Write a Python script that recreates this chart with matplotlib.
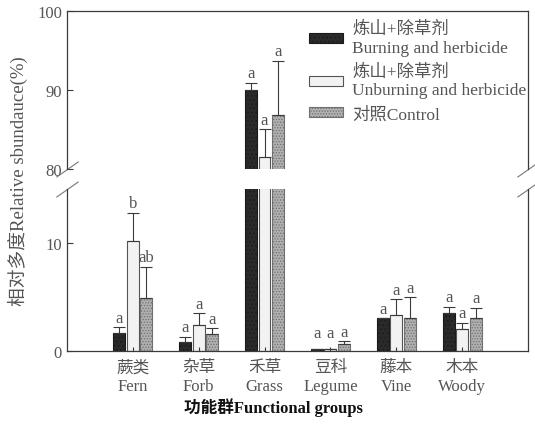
import matplotlib.pyplot as plt
import numpy as np
from matplotlib.patches import Patch

plt.rcParams['font.family'] = ['Liberation Serif', 'Noto Sans CJK SC']
plt.rcParams['hatch.linewidth'] = 0.6

# data
cats_cn = ['蕨类', '杂草', '禾草', '豆科', '藤本', '木本']
cats_en = ['Fern', 'Forb', 'Grass', 'Legume', 'Vine', 'Woody']

burn = [1.7, 0.85, 90.0, 0.15, 3.0, 3.5]
burn_err = [0.5, 0.45, 0.9, 0.0, 0.0, 0.6]
burn_sig = ['a', 'a', 'a', 'a', 'a', 'a']

unburn = [10.2, 2.4, 81.5, 0.2, 3.3, 2.0]
unburn_err = [2.6, 1.1, 3.5, 0.0, 1.5, 0.6]
unburn_sig = ['b', 'a', 'a', 'a', 'a', 'a']

ctrl = [4.9, 1.6, 86.8, 0.6, 3.0, 3.0]
ctrl_err = [2.9, 0.5, 6.9, 0.3, 2.0, 1.0]
ctrl_sig = ['ab', 'a', 'a', 'a', 'a', 'a']

labels = ['炼山+除草剂\nBurning and herbicide',
          '炼山+除草剂\nUnburning and herbicide',
          '对照Control']

ink = '#3a3a3a'
txt = '#555555'

fig = plt.figure(figsize=(5.35, 4.27), dpi=100)
ax_top = fig.add_axes([0.125, 0.602, 0.862, 0.370])
ax_bot = fig.add_axes([0.125, 0.176, 0.862, 0.379])

x = np.arange(len(cats_cn))
w = 0.18
step = 0.205
series = [
    (burn, burn_err, burn_sig, dict(facecolor='#2a2a2a', edgecolor='#1a1a1a', hatch='....')),
    (unburn, unburn_err, unburn_sig, dict(facecolor='#f2f2f2', edgecolor='#555555')),
    (ctrl, ctrl_err, ctrl_sig, dict(facecolor='#b0b0b0', edgecolor='#707070', hatch='......')),
]

handles = []
for i, (vals, errs, sigs, style) in enumerate(series):
    pos = x + (i - 1) * step
    for ax in (ax_top, ax_bot):
        ax.bar(pos, vals, w, linewidth=0.8, **style)
        ax.errorbar(pos, vals, yerr=[np.zeros(len(vals)), errs], fmt='none',
                    ecolor=ink, elinewidth=0.8, capsize=4, capthick=0.8)
    handles.append(Patch(linewidth=0.8, **style))
    for p, v, e, s in zip(pos, vals, errs, sigs):
        top = v + e
        ax = ax_top if top > 50 else ax_bot
        ax.annotate(s, (p, max(top, 0.8)), xytext=(0, 1), textcoords='offset points',
                    ha='center', va='bottom', fontsize=12, color=txt)

ax_top.set_ylim(80, 100)
ax_bot.set_ylim(0, 15)
for ax in (ax_top, ax_bot):
    ax.set_xlim(-1, 6)
    for sp in ax.spines.values():
        sp.set_color(ink)
        sp.set_linewidth(0.9)
    ax.tick_params(direction='in', length=4, colors=ink, labelcolor=txt, labelsize=12)

ax_top.spines['bottom'].set_visible(False)
ax_bot.spines['top'].set_visible(False)
ax_top.set_xticks([])
ax_top.set_yticks([80, 90, 100])
ax_bot.set_yticks([0, 10])
ax_bot.set_xticks(x)
ax_bot.set_xticklabels([f'{c}\n{e}' for c, e in zip(cats_cn, cats_en)],
                       fontsize=12, linespacing=1.2)
ax_bot.tick_params(axis='x', length=3, pad=6)

# break marks
kw = dict(marker=[(-1, -0.7), (1, 0.7)], markersize=16, linestyle='none',
          color='#777777', mec='#777777', mew=0.8, clip_on=False)
ax_top.plot([0, 1], [0, 0], transform=ax_top.transAxes, **kw)
ax_bot.plot([0, 1], [1, 1], transform=ax_bot.transAxes, **kw)

leg = ax_top.legend(handles, labels, loc='upper right', bbox_to_anchor=(1.03, 1.035),
                    frameon=False, fontsize=12.5, handlelength=2.0, handleheight=0.5,
                    labelspacing=0.45, handletextpad=0.5, labelcolor=txt)

fig.text(0.034, 0.576, '相对多度Relative sbundauce(%)', rotation=90,
         ha='center', va='center', fontsize=13.5, color=txt)
fig.text(0.512, 0.045, '功能群Functional groups', ha='center', va='center',
         fontsize=12, fontweight='bold', color='#111111')

fig.savefig('out.png', dpi=100, facecolor='white')
